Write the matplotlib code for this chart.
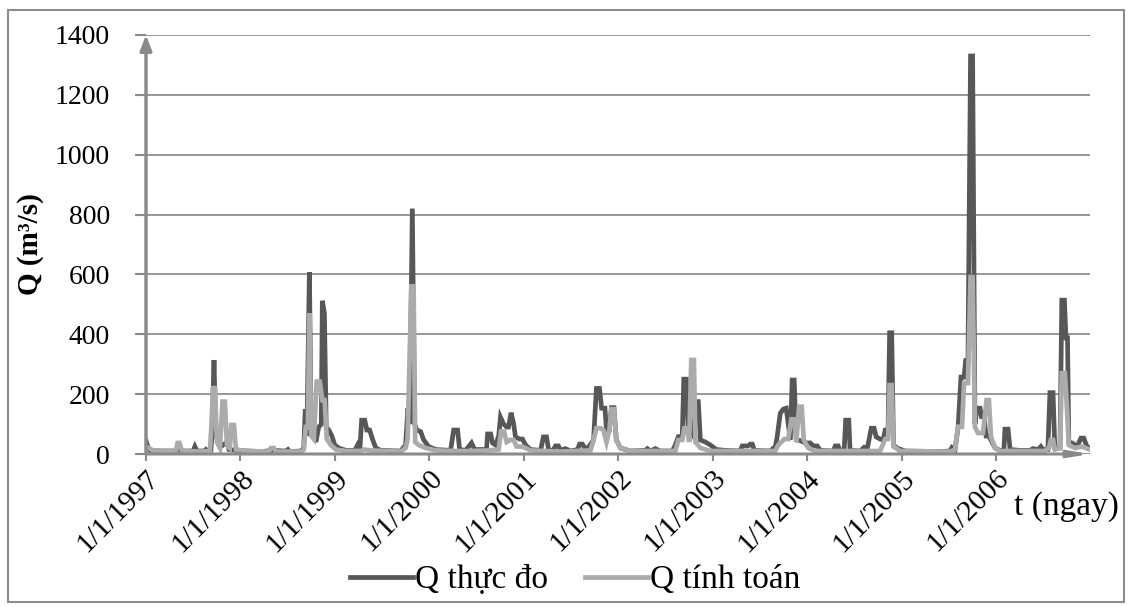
import matplotlib
matplotlib.use("Agg")
import matplotlib.pyplot as plt
import matplotlib.dates as mdates
from matplotlib.ticker import FuncFormatter
from matplotlib.patches import Rectangle
import pandas as pd

# ---------------- data (days since 1997-01-01, discharge m3/s) ----------------
start_date = "1997-01-01"
end_date = "2006-12-31"

obs_day = [0, 5, 15, 58, 116, 124, 135, 182, 189, 197, 228, 232, 240, 251, 255, 263, 270, 282, 290,
           316, 321, 348, 444, 491, 541, 549, 556, 599, 610, 616, 622, 632, 639, 649, 657, 668, 678,
           682, 690, 697, 707, 719, 730, 746, 773, 807, 818, 827, 834, 846, 854, 865, 877, 889, 908,
           985, 1004, 1013, 1020, 1030, 1039, 1047, 1062, 1074, 1093, 1120, 1178, 1190, 1205, 1213,
           1236, 1259, 1271, 1317, 1321, 1333, 1340, 1352, 1364, 1371, 1383, 1395, 1402, 1412, 1422,
           1429, 1445, 1456, 1468, 1487, 1526, 1537, 1549, 1557, 1572, 1584, 1595, 1603, 1622, 1642,
           1669, 1677, 1688, 1700, 1715, 1731, 1742, 1754, 1762, 1775, 1781, 1792, 1800, 1810, 1819,
           1835, 1874, 1931, 1939, 1951, 1970, 1989, 2036, 2047, 2059, 2074, 2080, 2090, 2097, 2109,
           2117, 2127, 2136, 2144, 2163, 2183, 2206, 2241, 2298, 2306, 2329, 2337, 2345, 2353, 2414,
           2434, 2441, 2453, 2465, 2476, 2484, 2492, 2499, 2507, 2515, 2530, 2542, 2553, 2569, 2581,
           2596, 2608, 2658, 2666, 2677, 2685, 2700, 2706, 2718, 2723, 2762, 2777, 2789, 2805, 2816,
           2824, 2839, 2851, 2859, 2870, 2876, 2884, 2891, 2905, 2936, 3071, 3110, 3117, 3129, 3141,
           3152, 3164, 3170, 3179, 3189, 3197, 3206, 3214, 3226, 3231, 3241, 3249, 3260, 3272, 3284,
           3303, 3318, 3322, 3334, 3342, 3380, 3419, 3430, 3450, 3461, 3469, 3488, 3496, 3508, 3515,
           3535, 3542, 3552, 3558, 3564, 3569, 3581, 3593, 3604, 3616, 3627, 3639, 3650]
obs_q = [45, 30, 12, 10, 10, 15, 10, 10, 25, 10, 10, 15, 10, 12, 60, 314, 60, 53, 25,
         41, 15, 12, 8, 12, 10, 15, 8, 10, 20, 150, 60, 607, 70, 70, 40, 90, 100,
         512, 470, 90, 80, 60, 30, 20, 12, 12, 30, 12, 113, 113, 80, 80, 47, 20, 12,
         10, 30, 153, 100, 820, 100, 80, 75, 47, 25, 15, 12, 80, 80, 15,
         12, 37, 15, 15, 67, 67, 37, 30, 60, 123, 100, 90, 90, 138, 100,
         57, 50, 50, 30, 15, 12, 57, 57, 15, 10, 27, 27, 12, 18, 10,
         15, 33, 33, 15, 27, 47, 219, 219, 153, 153, 80, 80, 155, 155, 47,
         20, 10, 12, 18, 10, 18, 10, 10, 30, 58, 58, 250, 250, 70, 70,
         60, 175, 175, 47, 40, 30, 15, 12, 10, 27, 27, 33, 33, 12, 10,
         25, 57, 136, 150, 153, 100, 47, 247, 247, 47, 45, 40, 37, 37, 27,
         27, 12, 10, 27, 27, 10, 10, 113, 113, 12, 10, 22, 15, 86, 86,
         57, 50, 47, 80, 80, 405, 405, 30, 20, 10, 8, 10, 22, 15, 90,
         257, 257, 312, 312, 1330, 1330, 100, 153, 153, 125, 125, 60, 60, 40, 20,
         12, 12, 83, 83, 15, 12, 12, 18, 15, 25, 15, 15, 205, 205, 20,
         20, 514, 514, 388, 388, 40, 37, 30, 30, 53, 53, 25, 20]

sim_day = [0, 27, 97, 116, 122, 129, 139, 212, 247, 253, 259, 267, 274, 286, 296, 305, 313, 324,
           330, 340, 348, 386, 475, 483, 494, 502, 599, 610, 618, 626, 632, 639, 649, 660, 672, 682,
           691, 699, 715, 734, 773, 831, 842, 869, 985, 1004, 1012, 1026, 1035, 1041, 1055, 1082,
           1120, 1198, 1255, 1325, 1364, 1373, 1385, 1395, 1410, 1422, 1433, 1456, 1487, 1603, 1719,
           1731, 1742, 1758, 1769, 1781, 1792, 1800, 1810, 1819, 1835, 1874, 2047, 2059, 2074, 2082,
           2094, 2101, 2109, 2119, 2125, 2144, 2183, 2434, 2445, 2469, 2484, 2496, 2507, 2515, 2526,
           2536, 2544, 2561, 2588, 2839, 2859, 2870, 2876, 2884, 2891, 2917, 3110, 3129, 3141, 3156,
           3164, 3179, 3189, 3197, 3206, 3218, 3237, 3251, 3260, 3268, 3284, 3303, 3477, 3492, 3500,
           3508, 3515, 3535, 3542, 3554, 3562, 3569, 3593, 3620, 3650]
sim_q = [25, 12, 10, 12, 37, 37, 10, 8, 10, 91, 220, 220, 40, 20, 175, 175, 30, 20,
         97, 97, 15, 10, 8, 20, 20, 8, 8, 15, 90, 90, 470, 60, 50, 242, 242, 180,
         180, 50, 30, 15, 10, 10, 15, 12, 8, 20, 50, 560, 560, 40, 30, 20,
         12, 10, 10, 12, 15, 75, 75, 40, 47, 47, 25, 25, 12, 8, 12,
         47, 86, 86, 80, 40, 80, 150, 150, 47, 20, 10, 10, 47, 47, 86,
         86, 40, 314, 314, 40, 20, 10, 10, 30, 50, 50, 116, 116, 40, 158,
         158, 47, 20, 10, 10, 50, 50, 230, 230, 25, 10, 8, 15, 91, 91,
         237, 237, 591, 591, 90, 70, 70, 180, 180, 57, 20, 10, 10, 20, 47,
         47, 15, 20, 270, 270, 150, 30, 20, 25, 15]

y_ticks = [0, 200, 400, 600, 800, 1000, 1200, 1400]
series_names = ["Q thực đo", "Q tính toán"]

# ---------------- figure ----------------
plt.rcParams['font.family'] = ['Liberation Serif', 'DejaVu Serif']

fig = plt.figure(figsize=(11.31, 6.07), dpi=100)
fig.patch.set_facecolor('white')
fig.patches.append(Rectangle((8 / 1131, 5 / 607), 1116 / 1131, 592 / 607,
                             transform=fig.transFigure, fill=False,
                             edgecolor='#8c8c8c', linewidth=1.5))

ax = fig.add_axes([146 / 1131, 1 - 454 / 607, (1090 - 146) / 1131, (454 - 35) / 607])

t0 = pd.Timestamp(start_date)
obs_t = t0 + pd.to_timedelta(obs_day, unit='D')
sim_t = t0 + pd.to_timedelta(sim_day, unit='D')

dark = '#575757'
light = '#ababab'
ax.plot(obs_t, obs_q, color=dark, lw=3.4, solid_joinstyle='miter', label=series_names[0], zorder=3)
ax.plot(sim_t, sim_q, color=light, lw=3.4, solid_joinstyle='miter', label=series_names[1], zorder=4)

ax.set_xlim(t0, pd.Timestamp(end_date))
ax.set_ylim(0, 1400)
ax.set_yticks(y_ticks)
ax.yaxis.grid(True, color='#8f8f8f', lw=1.3)
ax.set_axisbelow(True)

for s in ax.spines.values():
    s.set_visible(False)

# axis arrows
ax.annotate('', xy=(0, 1.0), xytext=(0, 0), xycoords='axes fraction',
            arrowprops=dict(arrowstyle='-|>,head_length=0.9,head_width=0.35',
                            color='#8a8a8a', lw=2.5, shrinkA=0, shrinkB=0), zorder=6)
ax.annotate('', xy=(1.0, 0), xytext=(0, 0), xycoords='axes fraction',
            arrowprops=dict(arrowstyle='-|>,head_length=1.2,head_width=0.2',
                            color='#8a8a8a', lw=2.2, shrinkA=0, shrinkB=0), zorder=6)

ax.xaxis.set_major_locator(mdates.YearLocator(1, month=1, day=1))
ax.xaxis.set_major_formatter(FuncFormatter(
    lambda v, p: f"{mdates.num2date(v).month}/{mdates.num2date(v).day}/{mdates.num2date(v).year}"))
ax.tick_params(axis='x', direction='out', length=5, width=1.5, color='#8a8a8a',
               labelsize=21, pad=3)
ax.tick_params(axis='y', direction='out', length=8, width=1.5, color='#8a8a8a',
               labelsize=20, pad=18)
for lab in ax.get_xticklabels():
    lab.set_rotation(45)
    lab.set_ha('right')
    lab.set_rotation_mode('anchor')

ax.set_ylabel('Q (m³/s)', fontsize=21, fontweight='bold', labelpad=8)

fig.text(1066 / 1131, 1 - 507 / 607, 't (ngay)', fontsize=24, ha='center', va='center')

leg = fig.legend(loc='center', bbox_to_anchor=(575 / 1131, 1 - 580 / 607), ncol=2,
                 frameon=False, fontsize=24, handlelength=1.9, columnspacing=1.1,
                 handletextpad=0.05)
for h in leg.get_lines():
    h.set_linewidth(3.4)

fig.savefig('out.png', dpi=100, facecolor='white')
